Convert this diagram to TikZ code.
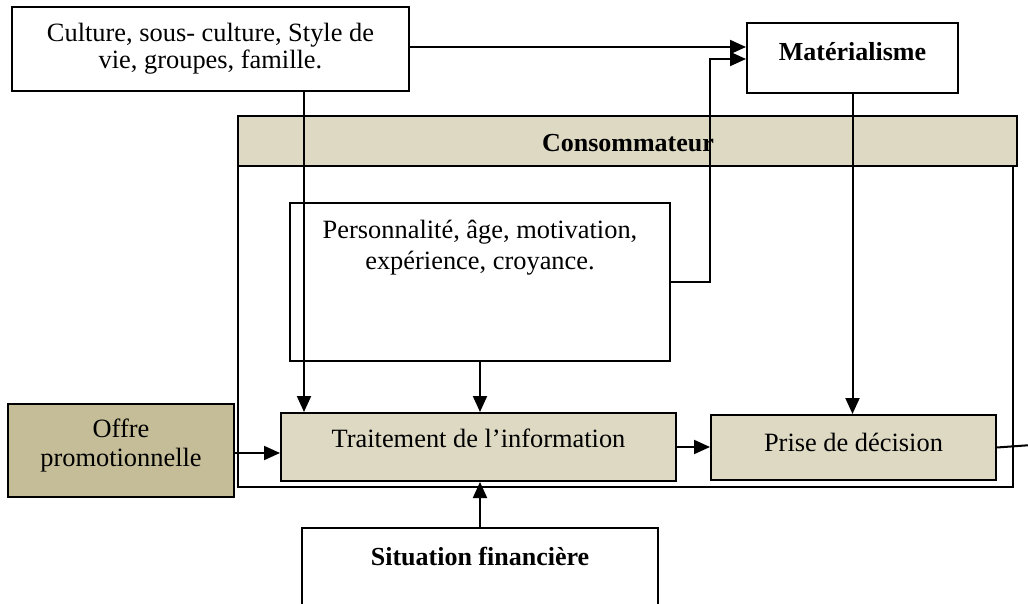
\documentclass[tikz,border=0pt]{standalone}
\usepackage{fontspec}
\setmainfont{Liberation Serif}
\usetikzlibrary{arrows.meta}
\definecolor{tanlight}{HTML}{DDD9C3}
\definecolor{tandark}{HTML}{C4BD97}
\tikzset{
  box/.style={draw, line width=1pt, inner sep=0pt},
  txt/.style={font=\fontsize{13.2pt}{13.5pt}\selectfont, align=center, inner sep=0pt},
  btxt/.style={font=\fontsize{13pt}{13.5pt}\selectfont\bfseries, align=center, inner sep=0pt},
  arr/.style={line width=1pt, -{Triangle[length=8pt,width=7pt]}},
  conn/.style={line width=1pt},
}
\begin{document}
\begin{tikzpicture}[x=0.5pt,y=-0.5pt]
\clip (0,0) rectangle (1028,604);
\fill[white] (0,0) rectangle (1028,604);
% consumer frame
\node[box, minimum width=387.5pt, minimum height=185.5pt] (cons) at (625.5,301.5) {};
\node[box, fill=tanlight, minimum width=389.5pt, minimum height=25pt] (band) at (627.5,141) {};
\node[btxt] (constxt) at (628,143) {Consommateur};
% boxes
\node[box, fill=white, minimum width=198.5pt, minimum height=42pt, txt] (culture) at (210.5,49)
  {Culture, sous- culture, Style de\\vie, groupes, famille.};
\node[box, fill=white, minimum width=105.5pt, minimum height=35pt] (mat) at (852.5,58) {};
\node[btxt] (mattxt) at (852.5,52) {Matérialisme};
\node[box, minimum width=190pt, minimum height=79pt] (pers) at (480,282) {};
\node[txt, font=\fontsize{13.2pt}{15.5pt}\selectfont] (perstxt) at (480,248)
  {Personnalité, âge, motivation,\\expérience, croyance.};
\node[box, fill=tanlight, minimum width=197.5pt, minimum height=34pt] (trait) at (478.5,447) {};
\node[txt, anchor=base] (traittxt) at (478.5,447) {Traitement de l’information};
\node[box, fill=tanlight, minimum width=142.5pt, minimum height=32.5pt] (prise) at (853.5,447.5) {};
\node[txt, anchor=base] (prisetxt) at (853.5,451) {Prise de décision};
\node[box, fill=tandark, minimum width=113pt, minimum height=46.5pt] (offre) at (121,450) {};
\node[txt, font=\fontsize{13.2pt}{14.5pt}\selectfont] (offretxt) at (121,446)
  {Offre\\promotionnelle};
\node[box, fill=white, minimum width=178pt, minimum height=42pt] (sit) at (480,570) {};
\node[btxt] (sittxt) at (480,557) {Situation financière};
\coordinate (edge) at (1032,445);
% connectors
\draw[arr] ([yshift=1pt]culture.east) -- ([yshift=1pt]culture.east -| mat.west);
\draw[arr] ([xshift=46.75pt]culture.south) -- ([xshift=46.75pt]culture.south |- trait.north);
\draw[arr] (pers.south) -- (pers.south |- trait.north);
\draw[arr] (pers.east) -- ++(39,0) |- ([yshift=-0.5pt]mat.west);
\draw[arr] (mat.south) -- (mat.south |- prise.north);
\draw[arr] ([yshift=-1.5pt]offre.east) -- ([yshift=-1.5pt]offre.east -| trait.west);
\draw[arr] (trait.east) -- (trait.east -| prise.west);
\draw[arr] (sit.north) -- (sit.north |- trait.south);
\draw[conn] (prise.east) -- (edge);
\end{tikzpicture}
\end{document}
